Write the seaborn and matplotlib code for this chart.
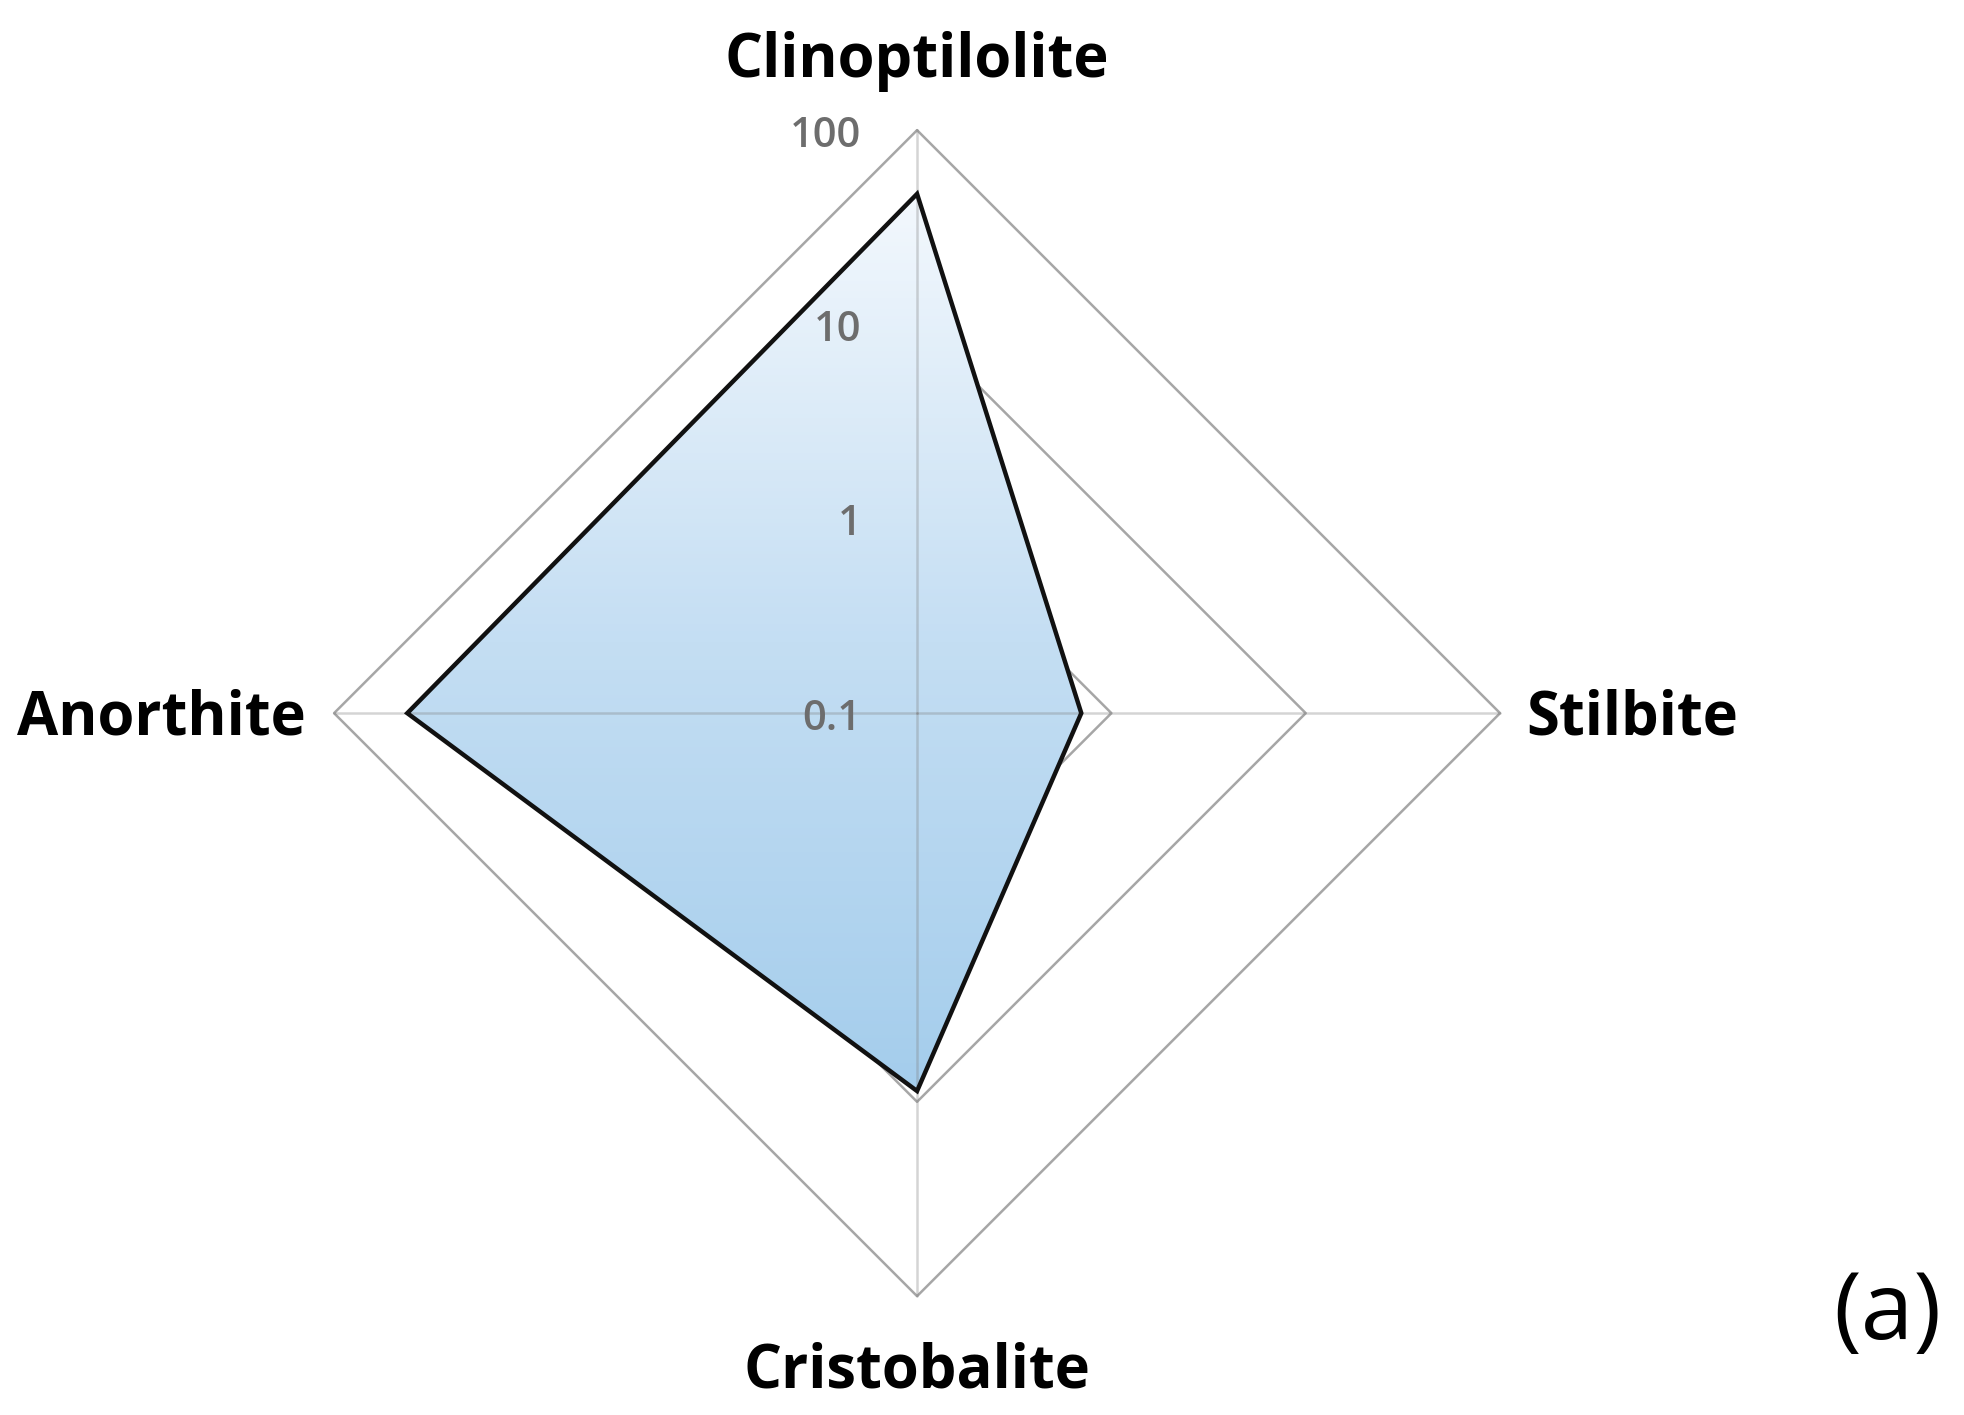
import numpy as np
import seaborn as sns
import matplotlib.pyplot as plt
from matplotlib.image import AxesImage
from matplotlib.colors import LinearSegmentedColormap
from matplotlib.ticker import NullLocator

# data (log radial axis, 0.1 at the centre)
categories = ["Clinoptilolite", "Stilbite", "Cristobalite", "Anorthite"]
values = [47, 0.7, 8.8, 42]
ring_values = [0.1, 1, 10, 100]
ring_labels = ["0.1", "1", "10", "100"]
panel_label = "(a)"

sns.set_theme(style="white")
plt.rcParams["font.family"] = ["Open Sans", "DejaVu Sans"]

fig = plt.figure(figsize=(19.65, 14.15), dpi=100, facecolor="white")
ax = fig.add_axes([0.170, 0.084, 0.5934, 0.824], projection="polar")
ax.set_theta_zero_location("N")
ax.set_theta_direction(-1)
ax.set_rscale("log")
ax.set_rlim(ring_values[0], ring_values[-1])
ax.grid(False)
ax.set_xticks([])
ax.set_yticks([])
ax.yaxis.set_minor_locator(NullLocator())
ax.spines["polar"].set_visible(False)

angles = np.deg2rad(np.arange(len(categories)) * 360 / len(categories))
closed = np.append(angles, angles[0])
closed_vals = values + [values[0]]

# polygon rings (hidden under the filled area)
for v in ring_values[1:]:
    ax.plot(closed, [v] * len(closed), color="#a6a6a6", lw=1.8, zorder=1, clip_on=False)

# data polygon outline
poly = ax.fill(closed, closed_vals, facecolor="none", edgecolor="#111111",
               lw=3.2, zorder=5, clip_on=False)[0]

# vertical gradient fill clipped to the polygon
cmap = LinearSegmentedColormap.from_list("xl_blue", ["#a4cdec", "#c4def3", "#f3f8fd"])
pts = ax.transAxes.inverted().transform(
    ax.transData.transform([[angles[0], values[0]], [angles[2], values[2]]]))
grad = np.linspace(0, 1, 256).reshape(-1, 1)
im = AxesImage(ax, cmap=cmap, origin="lower",
               extent=(0, 1, pts[1, 1], pts[0, 1]), transform=ax.transAxes)
im.set_data(grad)
im.set_zorder(2)
ax.add_image(im)
im.set_clip_path(poly)

# spokes
for th in angles:
    ax.plot([th, th], [ring_values[0], ring_values[-1]], color="#7f7f7f",
            alpha=0.33, lw=1.8, zorder=3, clip_on=False)

# radial tick labels
for v, lab in zip(ring_values, ring_labels):
    ax.annotate(lab, xy=(0, v), xytext=(-40, -4), textcoords="offset points",
                ha="right", va="center", fontsize=30, fontweight="semibold",
                color="#6d6d6d", zorder=6, annotation_clip=False)

# category labels
offsets = [(0, 38, "center", "baseline"), (19, -4, "left", "center"),
           (0, -66, "center", "baseline"), (-20, -4, "right", "center")]
for th, cat, (dx, dy, ha, va) in zip(angles, categories, offsets):
    ax.annotate(cat, xy=(th, ring_values[-1]), xytext=(dx, dy),
                textcoords="offset points", ha=ha, va=va, fontsize=43,
                fontweight="bold", color="black", annotation_clip=False)

fig.text(0.9603, 0.071, panel_label, ha="center", va="center", fontsize=68, color="black")

plt.savefig("out.png", dpi=100, facecolor="white")
